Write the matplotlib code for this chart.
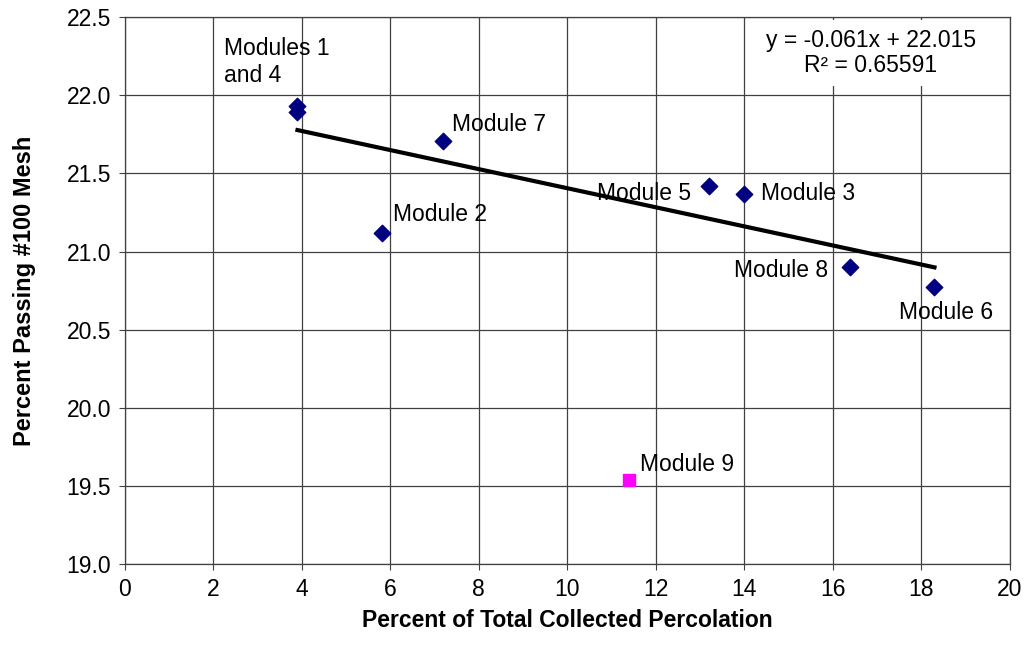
import matplotlib.pyplot as plt
from matplotlib.patches import Rectangle

plt.rcParams['font.family'] = ['Liberation Sans', 'DejaVu Sans']

# ---- data ----
modules = ["Module 1", "Module 4", "Module 7", "Module 2", "Module 5",
           "Module 3", "Module 8", "Module 6"]
perc_x = [3.9, 3.9, 7.2, 5.8, 13.2, 14.0, 16.4, 18.3]
passing_y = [21.93, 21.89, 21.71, 21.12, 21.42, 21.37, 20.90, 20.77]

outlier_x = [11.4]
outlier_y = [19.54]

slope = -0.061
intercept = 22.015
r2 = 0.65591

# ---- figure ----
fig = plt.figure(figsize=(10.24, 6.56), dpi=100)
ax = fig.add_axes([0.122, 0.140, 0.864, 0.834])

ax.scatter(perc_x, passing_y, marker='D', s=70, color='#000080', zorder=3)
ax.scatter(outlier_x, outlier_y, marker='s', s=80, color='#ff00ff', zorder=3)

# trend line over the range of the blue points
xs = [min(perc_x), max(perc_x)]
ax.plot(xs, [slope * v + intercept for v in xs], color='black', lw=3, zorder=2)

# point labels
fs = 16.5
ax.text(2.24, 22.37, "Modules 1\nand 4", fontsize=fs, ha='left', va='top', linespacing=1.2)
ax.text(7.4, 21.81, "Module 7", fontsize=fs, ha='left', va='center')
ax.text(6.05, 21.24, "Module 2", fontsize=fs, ha='left', va='center')
ax.text(12.8, 21.37, "Module 5", fontsize=fs, ha='right', va='center')
ax.text(14.37, 21.37, "Module 3", fontsize=fs, ha='left', va='center')
ax.text(15.9, 20.88, "Module 8", fontsize=fs, ha='right', va='center')
ax.text(17.5, 20.61, "Module 6", fontsize=fs, ha='left', va='center')
ax.text(11.65, 19.64, "Module 9", fontsize=fs, ha='left', va='center')

# equation, on a white box that hides the grid behind it
ax.add_patch(Rectangle((14.1, 22.06), 5.85, 0.42, facecolor='white',
                       edgecolor='none', zorder=1))
ax.text(16.86, 22.27, "y = -0.061x + 22.015\nR² = %.5f" % r2, fontsize=fs,
        ha='center', va='center', linespacing=1.15, zorder=4)

ax.set_xlim(0, 20)
ax.set_ylim(19.0, 22.5)
ax.set_xticks(range(0, 21, 2))
ax.set_yticks([19.0, 19.5, 20.0, 20.5, 21.0, 21.5, 22.0, 22.5])
ax.set_yticklabels(["%.1f" % v for v in ax.get_yticks()])
ax.tick_params(labelsize=16.5, length=4, color='#404040', pad=6)
ax.grid(True, color='#404040', lw=0.9)
ax.set_axisbelow(True)
for s in ax.spines.values():
    s.set_color('#404040')
    s.set_linewidth(0.9)
    s.set_zorder(5)

ax.set_xlabel("Percent of Total Collected Percolation", fontsize=16.5, fontweight='bold', labelpad=6)
ax.set_ylabel("Percent Passing #100 Mesh", fontsize=17, fontweight='bold', labelpad=22)

fig.savefig("out.png", dpi=100)
